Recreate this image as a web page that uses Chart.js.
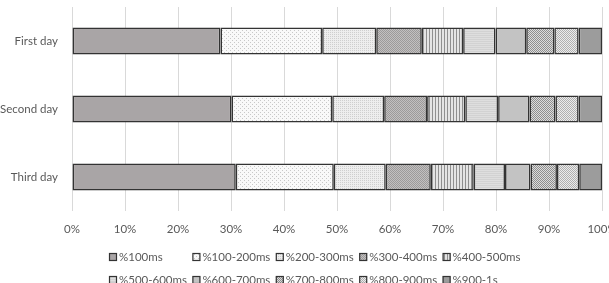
<!DOCTYPE html>
<html>
<head>
<meta charset="utf-8">
<script src="https://cdn.jsdelivr.net/npm/chart.js@4.4.1/dist/chart.umd.min.js"></script>
<style>
html,body{margin:0;padding:0;background:#fff;overflow:hidden;}
#wrap{width:609px;height:283px;position:relative;}
</style>
</head>
<body>
<div id="wrap"><canvas id="c" width="609" height="283"></canvas></div>
<script>
// ---- Data ----
const categories = ['First day', 'Second day', 'Third day'];
const seriesLabels = ['%100ms', '%100-200ms', '%200-300ms', '%300-400ms', '%400-500ms',
                      '%500-600ms', '%600-700ms', '%700-800ms', '%800-900ms', '%900-1s'];
const pct0to100    = [28.0, 30.1, 30.9];
const pct100to200  = [19.2, 19.0, 18.5];
const pct200to300  = [10.2, 9.8, 9.8];
const pct300to400  = [8.6, 8.1, 8.5];
const pct400to500  = [7.8, 7.2, 8.1];
const pct500to600  = [6.1, 6.2, 5.9];
const pct600to700  = [5.8, 5.9, 4.8];
const pct700to800  = [5.3, 4.9, 5.0];
const pct800to900  = [4.6, 4.4, 4.2];
const pct900to1s   = [4.4, 4.4, 4.3];
const xTickValues  = [0, 10, 20, 30, 40, 50, 60, 70, 80, 90, 100];

const seriesValues = [pct0to100, pct100to200, pct200to300, pct300to400, pct400to500,
                      pct500to600, pct600to700, pct700to800, pct800to900, pct900to1s];

// ---- Patterns ----
function makePattern(w, h, bg, draw) {
  const c = document.createElement('canvas');
  c.width = w; c.height = h;
  const g = c.getContext('2d');
  g.fillStyle = bg; g.fillRect(0, 0, w, h);
  if (draw) draw(g);
  return g.createPattern(c, 'repeat');
}
function dots(color, pts) {
  return g => { g.fillStyle = color; pts.forEach(p => g.fillRect(p[0], p[1], 1, 1)); };
}
const ctx = document.getElementById('c').getContext('2d');
const fills = [
  '#a9a5a6',
  makePattern(4, 4, '#f9f9f9', dots('#c8c8c8', [[0,0],[2,2]])),
  makePattern(2, 2, '#eeeeee', dots('#cfcfcf', [[0,0]])),
  makePattern(2, 2, '#c2c0c0', dots('#9c9a9a', [[0,0],[1,1]])),
  makePattern(3, 1, '#e4e4e4', g => { g.fillStyle = '#8f8f8f'; g.fillRect(0,0,1,1); }),
  makePattern(1, 2, '#dedede', g => { g.fillStyle = '#d2d2d2'; g.fillRect(0,1,1,1); }),
  '#c3c3c3',
  makePattern(2, 2, '#dcdcdc', dots('#8e8e8e', [[0,0],[1,1]])),
  makePattern(2, 2, '#ececec', dots('#b0b0b0', [[0,0],[1,1]])),
  '#9c9c9c'
];

const datasets = seriesLabels.map((label, i) => ({
  label: label,
  data: seriesValues[i],
  backgroundColor: fills[i],
  borderColor: '#333333',
  borderWidth: 1.6,
  borderSkipped: false,
  categoryPercentage: 1.0,
  barPercentage: 0.4
}));

const FONT = 'Lato, "Liberation Sans", sans-serif';
const TXT = '#595959';

const legendPlugin = {
  id: 'gridLegend',
  afterDraw(chart) {
    const g = chart.ctx;
    const x0 = 109, dx = 83.4, rows = [257, 280];
    g.save();
    g.font = '11.5px ' + FONT;
    g.textBaseline = 'middle';
    g.textAlign = 'left';
    chart.data.datasets.forEach((ds, i) => {
      const col = i % 5, row = Math.floor(i / 5);
      const x = x0 + col * dx, y = rows[row];
      g.fillStyle = ds.backgroundColor;
      g.fillRect(x, y - 4, 8, 8);
      g.strokeStyle = '#333';
      g.lineWidth = 1.2;
      g.strokeRect(x + 0.5, y - 3.5, 7, 7);
      g.fillStyle = TXT;
      g.fillText(ds.label, x + 10, y + 0.5);
    });
    g.restore();
  }
};

function zeroPad(s) { s.paddingLeft = 0; s.paddingRight = 0; s.paddingTop = 0; s.paddingBottom = 0; }

new Chart(ctx, {
  type: 'bar',
  data: { labels: categories, datasets: datasets },
  plugins: [legendPlugin],
  options: {
    indexAxis: 'y',
    responsive: false,
    animation: false,
    layout: { autoPadding: false, padding: { top: 7, right: 7, left: 0, bottom: 0 } },
    plugins: { legend: { display: false }, tooltip: { enabled: false } },
    scales: {
      x: {
        stacked: true,
        min: 0, max: 100,
        afterBuildTicks: s => { s.ticks = xTickValues.map(v => ({ value: v })); },
        afterFit: s => { s.height = 72; zeroPad(s); },
        border: { display: false },
        grid: { color: '#d9d9d9', lineWidth: 1, drawTicks: false },
        ticks: {
          padding: 11,
          color: TXT,
          font: { family: FONT, size: 11.5 },
          callback: v => v + '%'
        }
      },
      y: {
        stacked: true,
        afterFit: s => { s.width = 72; zeroPad(s); },
        border: { display: false },
        grid: { display: false, drawTicks: false },
        ticks: {
          padding: 14,
          color: TXT,
          font: { family: FONT, size: 11.5 }
        }
      }
    }
  }
});
</script>
</body>
</html>
